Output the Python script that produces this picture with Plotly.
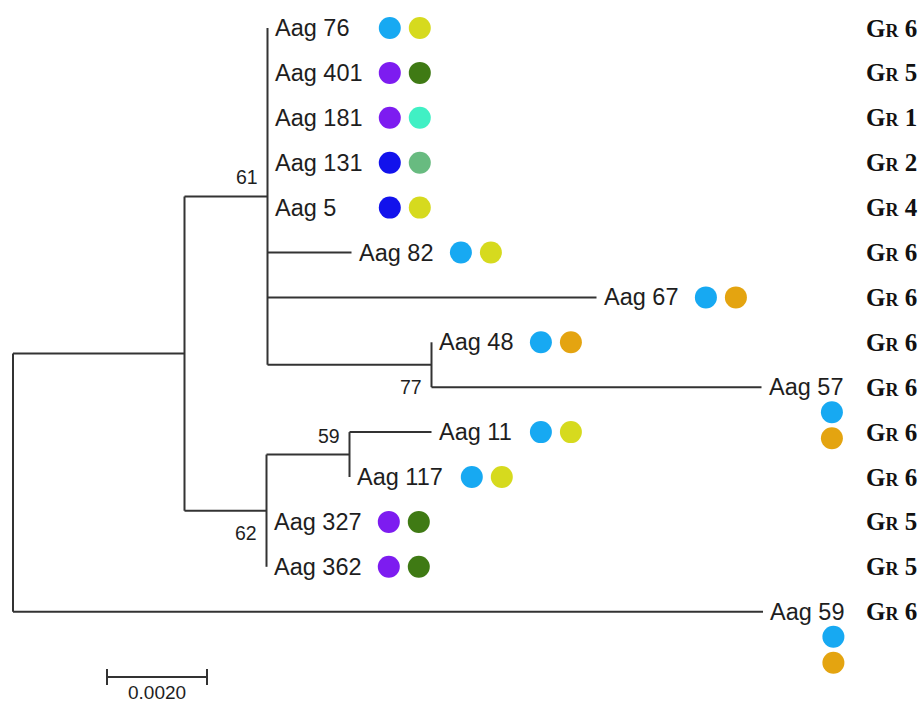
import plotly.graph_objects as go

# ---- tree data (branch lengths in substitutions/site) ----
node_names = ["root", "nA", "n61", "n62", "n77", "n59",
              "Aag 76", "Aag 401", "Aag 181", "Aag 131", "Aag 5", "Aag 82", "Aag 67",
              "Aag 48", "Aag 57", "Aag 11", "Aag 117", "Aag 327", "Aag 362", "Aag 59"]
node_parent = [None, "root", "nA", "nA", "n61", "n62",
               "n61", "n61", "n61", "n61", "n61", "n61", "n61",
               "n77", "n77", "n59", "n59", "n62", "n62", "root"]
branch_len = [0.0, 0.00343, 0.00166, 0.00164, 0.00328, 0.00166,
              0.0, 0.0, 0.0, 0.0, 0.0, 0.00168, 0.00658,
              0.0, 0.00660, 0.00164, 0.0, 0.0, 0.0, 0.01500]
bootstrap = {"n61": "61", "n77": "77", "n59": "59", "n62": "62"}

leaf_order = ["Aag 76", "Aag 401", "Aag 181", "Aag 131", "Aag 5", "Aag 82", "Aag 67",
              "Aag 48", "Aag 57", "Aag 11", "Aag 117", "Aag 327", "Aag 362", "Aag 59"]
dot1 = ["#17a9f2", "#7d1cf0", "#7d1cf0", "#1212ec", "#1212ec", "#17a9f2", "#17a9f2",
        "#17a9f2", "#17a9f2", "#17a9f2", "#17a9f2", "#7d1cf0", "#7d1cf0", "#17a9f2"]
dot2 = ["#d6da1e", "#3f7a14", "#40f0c4", "#68bb80", "#d6da1e", "#d6da1e", "#e4a410",
        "#e4a410", "#e4a410", "#d6da1e", "#d6da1e", "#3f7a14", "#3f7a14", "#e4a410"]
groups = ["6", "5", "1", "2", "4", "6", "6", "6", "6", "6", "6", "5", "5", "6"]
scale_value = 0.0020

# ---- layout constants ----
W, H = 923, 704
PX = 50000.0                       # pixels per unit of branch length
X0 = 13                            # pixel x of root
ROW0, ROWH = 28, 44.9              # pixel y of first leaf, row spacing
xr = [-X0 / PX, (W - X0) / PX]
yr = [(H - ROW0) / ROWH, -ROW0 / ROWH]
line_col = "#333333"

parent = dict(zip(node_names, node_parent))
blen = dict(zip(node_names, branch_len))
children = {n: [c for c in node_names if parent[c] == n] for n in node_names}

depth = {}
def get_depth(n):
    if n not in depth:
        depth[n] = 0.0 if parent[n] is None else get_depth(parent[n]) + blen[n]
    return depth[n]
for n in node_names:
    get_depth(n)

ypos = {n: i for i, n in enumerate(leaf_order)}
def get_y(n):
    if n not in ypos:
        ys = [get_y(c) for c in children[n]]
        ypos[n] = (min(ys) + max(ys)) / 2
    return ypos[n]
get_y("root")

fig = go.Figure()
lx, ly = [], []
for n in node_names:
    if parent[n] is not None:
        p = parent[n]
        if blen[n] > 0:
            lx += [depth[p], depth[n], None]
            ly += [ypos[n], ypos[n], None]
    if children[n]:
        ys = [ypos[c] for c in children[n]]
        lx += [depth[n], depth[n], None]
        ly += [min(ys), max(ys), None]
fig.add_trace(go.Scatter(x=lx, y=ly, mode="lines", line=dict(color=line_col, width=2),
                         hoverinfo="skip", showlegend=False))

annotations = []
CHARW = 12.9
def text_w(s):
    return len(s) * CHARW

dx, dy, dc = [], [], []
for i, leaf in enumerate(leaf_order):
    tip = depth[leaf]
    annotations.append(dict(x=tip, y=ypos[leaf], text=leaf, showarrow=False,
                            xanchor="left", yanchor="middle", xshift=5,
                            font=dict(family="Liberation Sans, Arial", size=23.5, color="#1e1e1e")))
    if blen[leaf] == 0:
        sib = [c for c in children[parent[leaf]] if blen[c] == 0 and not children[c]]
        w = max(text_w(s) for s in sib)
    else:
        w = text_w(leaf)
    off = 32 + w
    tip_px = X0 + tip * PX
    if tip_px + off + 30 > 800:
        cx = tip + (5 + text_w(leaf) - 12) / PX
        dx += [cx, cx]
        dy += [ypos[leaf] + 25 / ROWH, ypos[leaf] + 51 / ROWH]
    else:
        dx += [tip + off / PX, tip + (off + 30) / PX]
        dy += [ypos[leaf], ypos[leaf]]
    dc += [dot1[i], dot2[i]]
    annotations.append(dict(x=(864 - X0) / PX, y=ypos[leaf],
                            text="G<span style='font-size:18px'>R</span> " + groups[i],
                            showarrow=False, xanchor="left", yanchor="middle",
                            font=dict(family="Liberation Serif, Times New Roman", size=25,
                                      color="#111111", weight="bold")))

fig.add_trace(go.Scatter(x=dx, y=dy, mode="markers",
                         marker=dict(size=22, color=dc, line=dict(width=0)),
                         hoverinfo="skip", showlegend=False))

# bootstrap values
boot_pos = {"n61": "above", "n59": "above", "n77": "below", "n62": "below"}
for n, v in bootstrap.items():
    up = boot_pos[n] == "above"
    annotations.append(dict(x=depth[n], y=ypos[n], text=v, showarrow=False,
                            xanchor="right", yanchor="bottom" if up else "top",
                            xshift=-8, yshift=6 if up else -9,
                            font=dict(family="Liberation Sans, Arial", size=19.5, color="#1e1e1e")))

# scale bar
sb_x0 = (107 - X0) / PX
sb_y = (677 - ROW0) / ROWH
tick = 8 / ROWH
fig.add_trace(go.Scatter(
    x=[sb_x0, sb_x0 + scale_value, None, sb_x0, sb_x0, None, sb_x0 + scale_value, sb_x0 + scale_value],
    y=[sb_y, sb_y, None, sb_y - tick, sb_y + tick, None, sb_y - tick, sb_y + tick],
    mode="lines", line=dict(color=line_col, width=2), hoverinfo="skip", showlegend=False))
annotations.append(dict(x=sb_x0 + scale_value / 2, y=sb_y, text=f"{scale_value:.4f}",
                        showarrow=False, xanchor="center", yanchor="top", yshift=-3,
                        font=dict(family="Liberation Sans, Arial", size=19, color="#1e1e1e")))

fig.update_layout(
    width=W, height=H, autosize=False,
    margin=dict(l=0, r=0, t=0, b=0),
    paper_bgcolor="white", plot_bgcolor="white",
    xaxis=dict(range=xr, visible=False, fixedrange=True),
    yaxis=dict(range=yr, visible=False, fixedrange=True),
    annotations=annotations,
)
fig.write_html("out.html")
